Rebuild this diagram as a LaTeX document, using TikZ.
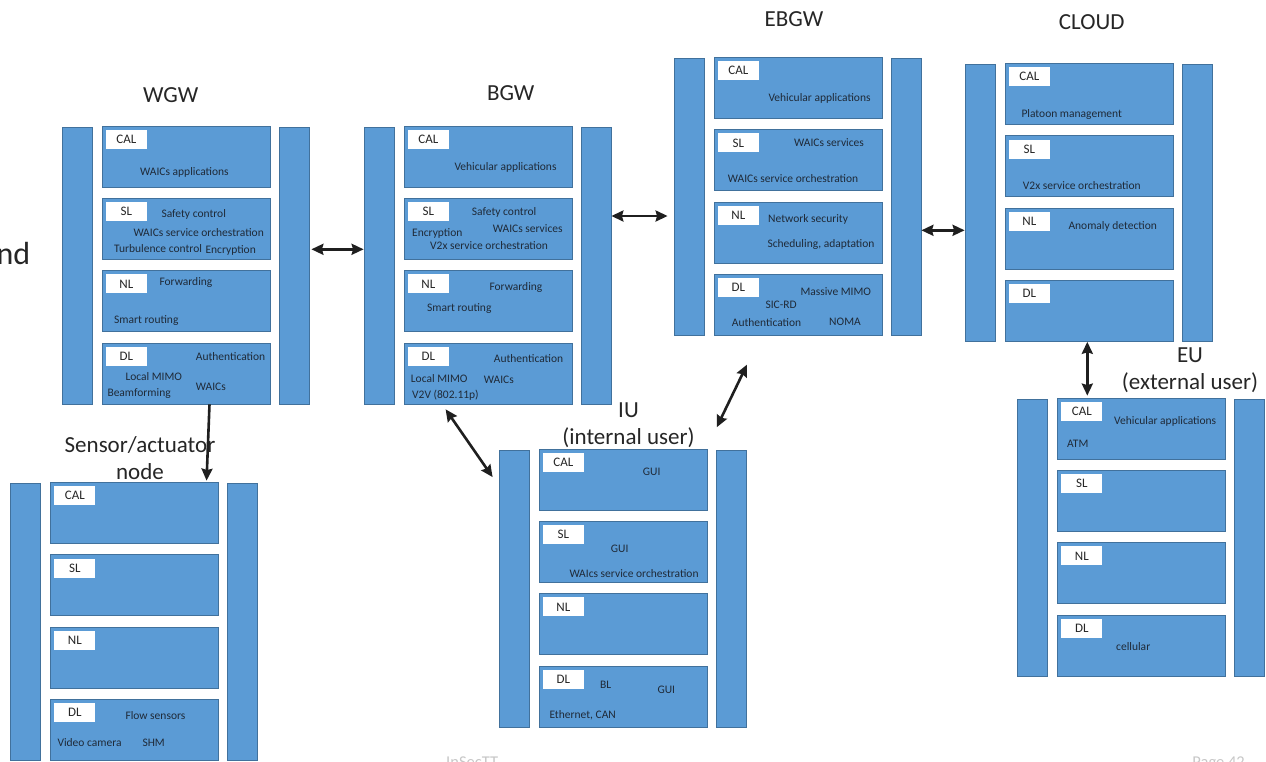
\documentclass[tikz,border=0pt]{standalone}
\usepackage{fontspec}
\setmainfont{Carlito}
\usetikzlibrary{arrows.meta,calc}
\definecolor{layerblue}{HTML}{5B9BD5}
\definecolor{layeredge}{HTML}{41719C}
\definecolor{inktext}{HTML}{1F2A38}
\definecolor{titletext}{HTML}{262626}

% one protocol stack: name, left x, top y
\newcommand{\layerstack}[3]{%
  \node[bar] (#1-lb) at (#2+15,#3+139.5) {};
  \node[bar] (#1-rb) at (#2+232,#3+139.5) {};
  \node[layer] (#1-cal) at (#2+124,#3+30.5) {};
  \node[layer] (#1-sl) at (#2+124,#3+102.8) {};
  \node[layer] (#1-nl) at (#2+124,#3+175.1) {};
  \node[layer] (#1-dl) at (#2+124,#3+247.4) {};
  \node[tag] (#1-cal-t) at ([shift={(4,4)}]#1-cal.north west) {CAL};
  \node[tag] (#1-sl-t) at ([shift={(4,4)}]#1-sl.north west) {SL};
  \node[tag] (#1-nl-t) at ([shift={(4,4)}]#1-nl.north west) {NL};
  \node[tag] (#1-dl-t) at ([shift={(4,4)}]#1-dl.north west) {DL};
}

\begin{document}
\begin{tikzpicture}[
  x=1pt, y=-1pt,
  bar/.style={draw=layeredge, fill=layerblue, line width=0.8pt, minimum width=30pt, minimum height=277pt, inner sep=0pt},
  layer/.style={draw=layeredge, fill=layerblue, line width=0.8pt, minimum width=168pt, minimum height=61pt, inner sep=0pt},
  tag/.style={anchor=north west, fill=white, minimum width=41pt, minimum height=19pt, inner sep=0pt, font=\fontsize{13}{15}\selectfont, text=titletext},
  txt/.style={anchor=west, inner sep=0pt, font=\fontsize{11.5}{13}\selectfont, text=inktext},
  title/.style={align=center, inner sep=0pt, font=\fontsize{23}{26.7}\selectfont, text=titletext},
  foot/.style={inner sep=0pt, font=\fontsize{16.5}{18}\selectfont, text=black!22},
  link/.style={{Stealth[length=12pt,width=11pt,inset=1.5pt]}-{Stealth[length=12pt,width=11pt,inset=1.5pt]}, line width=2.6pt, draw=black!88},
  onelink/.style={-{Stealth[length=12pt,width=11pt,inset=1.5pt]}, line width=2.6pt, draw=black!88},
]
\useasboundingbox (0,0) rectangle (1266,761);
\fill[white] (0,0) rectangle (1266,761);

\layerstack{wgw}{62}{126}
\layerstack{bgw}{364}{126}
\layerstack{ebgw}{674}{57.3}
\layerstack{cloud}{965}{63.5}
\layerstack{sen}{10.5}{482.5}
\layerstack{iu}{499}{449}
\layerstack{eu}{1017.5}{398}

\node[title] (wgw-name) at (170.7,95) {WGW};
\node[title] (bgw-name) at (510.7,93.3) {BGW};
\node[title] (ebgw-name) at (794,19) {EBGW};
\node[title] (cloud-name) at (1091.7,21.7) {CLOUD};
\node[title] (sen-name) at (140,458.3) {Sensor/actuator\\node};
\node[title] (iu-name) at (628.5,425.5) {IU\\(internal user)};
\node[title] (eu-name) at (1190,370) {EU\\(external user)};
\node[title, anchor=base east, font=\fontsize{32}{36}\selectfont] (nd) at (30.5,264) {nd};

\node[txt] (wgw-app) at (140,172.3) {WAICs applications};
\node[txt] (wgw-safe) at (161.3,214.7) {Safety control};
\node[txt] (wgw-orch) at (133.3,232.3) {WAICs service orchestration};
\node[txt] (wgw-turb) at (114,248.3) {Turbulence control};
\node[txt] (wgw-enc) at (205.3,250.3) {Encryption};
\node[txt] (wgw-fwd) at (159.3,282.3) {Forwarding};
\node[txt] (wgw-rout) at (114,320.7) {Smart routing};
\node[txt] (wgw-auth) at (195.7,356.3) {Authentication};
\node[txt] (wgw-mimo) at (125.3,376.7) {Local MIMO};
\node[txt] (wgw-waics) at (195.7,386.7) {WAICs};
\node[txt] (wgw-beam) at (107.3,393.3) {Beamforming};

\node[txt] (bgw-app) at (454.3,167.7) {Vehicular applications};
\node[txt] (bgw-safe) at (471.7,212.3) {Safety control};
\node[txt] (bgw-serv) at (492.7,228.3) {WAICs services};
\node[txt] (bgw-enc) at (412,233.7) {Encryption};
\node[txt] (bgw-orch) at (430,245.3) {V2x service orchestration};
\node[txt] (bgw-fwd) at (489.3,287.3) {Forwarding};
\node[txt] (bgw-rout) at (427,308.3) {Smart routing};
\node[txt] (bgw-auth) at (493.7,358.3) {Authentication};
\node[txt] (bgw-mimo) at (410.7,378.3) {Local MIMO};
\node[txt] (bgw-waics) at (483.7,380.3) {WAICs};
\node[txt] (bgw-v2v) at (412,395.7) {V2V (802.11p)};

\node[txt] (ebgw-app) at (768.3,98.7) {Vehicular applications};
\node[txt] (ebgw-serv) at (794,142.7) {WAICs services};
\node[txt] (ebgw-orch) at (727.7,178.3) {WAICs service orchestration};
\node[txt] (ebgw-sec) at (768,219.3) {Network security};
\node[txt] (ebgw-sched) at (767.3,244.7) {Scheduling, adaptation};
\node[txt] (ebgw-mimo) at (800.3,291.3) {Massive MIMO};
\node[txt] (ebgw-sic) at (765.3,305) {SIC-RD};
\node[txt] (ebgw-auth) at (731.7,323) {Authentication};
\node[txt] (ebgw-noma) at (829,322.3) {NOMA};

\node[txt] (cloud-plat) at (1021.3,114.3) {Platoon management};
\node[txt] (cloud-orch) at (1022.7,186) {V2x service orchestration};
\node[txt] (cloud-anom) at (1068.3,226.3) {Anomaly detection};

\node[txt] (sen-flow) at (125.3,715.3) {Flow sensors};
\node[txt] (sen-cam) at (57.3,742.3) {Video camera};
\node[txt] (sen-shm) at (142.3,742.3) {SHM};

\node[txt] (iu-gui1) at (642.7,472.3) {GUI};
\node[txt] (iu-gui2) at (610.7,549.3) {GUI};
\node[txt] (iu-orch) at (569.3,573.3) {WAIcs service orchestration};
\node[txt] (iu-bl) at (600,685) {BL};
\node[txt] (iu-gui3) at (657.3,689.3) {GUI};
\node[txt] (iu-eth) at (549.3,715) {Ethernet, CAN};

\node[txt] (eu-app) at (1114,421.3) {Vehicular applications};
\node[txt] (eu-atm) at (1067,444.3) {ATM};
\node[txt] (eu-cell) at (1116,647) {cellular};

\node[foot, anchor=base west] (foot-l) at (446,767) {InSecTT};
\node[foot, anchor=base east] (foot-r) at (1245,767) {Page 42};

\draw[link, shorten <=2pt] (wgw-rb.east |- 0,249.3) -- (bgw-lb.west |- 0,249.3);
\draw[link, shorten >=6pt] (bgw-rb.east |- 0,216) -- (ebgw-lb.west |- 0,216);
\draw[link] (ebgw-rb.east |- 0,230.3) -- (cloud-lb.west |- 0,230.3);
\draw[link, shorten >=2pt] (cloud-dl.south -| 1087.3,0) -- (eu-cal.north -| 1087.3,0);
\draw[onelink, shorten >=1.5pt] (wgw-dl.south -| 209.5,0) -- (sen-cal.north -| 206.5,0);
\draw[link] ([shift={(42,5)}]bgw-dl.south west) -- ([shift={(-6,27.5)}]iu-lb.north west);
\draw[link] ([shift={(-51,29)}]ebgw-dl.south) -- ([shift={(-14.3,-22.3)}]iu-rb.north);
\end{tikzpicture}
\end{document}
